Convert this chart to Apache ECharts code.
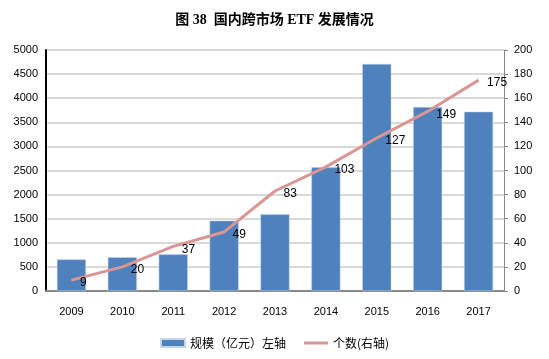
<!DOCTYPE html>
<html><head><meta charset="utf-8">
<script src="https://cdn.jsdelivr.net/npm/echarts@6/dist/echarts.min.js"></script>
<style>html,body{margin:0;padding:0;background:#fff}#c{width:549px;height:359px}</style>
</head><body><div id="c"></div>
<script>
const titleText = '图 38  国内跨市场 ETF 发展情况';
const years = ['2009','2010','2011','2012','2013','2014','2015','2016','2017'];
const scaleValues = [655, 700, 760, 1460, 1590, 2565, 4710, 3815, 3720];
const countValues = [9, 20, 37, 49, 83, 103, 127, 149, 175];
const barName = '规模（亿元）左轴';
const lineName = '个数(右轴)';

const chart = echarts.init(document.getElementById('c'), null, {renderer:'canvas'});
const numFont = "'Liberation Sans','Noto Sans CJK SC',sans-serif";
chart.setOption({
  animation:false,
  backgroundColor:'#fff',
  title:{text:titleText,left:'center',top:8,textStyle:{fontFamily:"'Liberation Serif','Noto Sans CJK SC',serif",fontWeight:'bold',fontSize:14,color:'#000'}},
  grid:{left:46,right:45,top:50,bottom:68},
  legend:{bottom:5,left:'center',itemWidth:24,itemHeight:8,itemGap:18,
    textStyle:{fontFamily:"'Noto Sans CJK SC',sans-serif",fontSize:12,color:'#000'},
    data:[{name:barName,icon:'rect'},{name:lineName,icon:'path://M0,0H24V3H0Z'}]},
  xAxis:{type:'category',data:years,
    axisLine:{lineStyle:{color:'#888',width:2}},axisTick:{show:false},
    axisLabel:{fontFamily:numFont,fontSize:11,color:'#000',margin:15}},
  yAxis:[
    {type:'value',min:0,max:5000,interval:500,
     axisLine:{show:true,lineStyle:{color:'#000',width:2}},axisTick:{show:false},
     splitLine:{lineStyle:{color:'#d9d9d9',width:2}},
     axisLabel:{fontFamily:numFont,fontSize:11,color:'#000',margin:8,formatter:v=>String(v)}},
    {type:'value',min:0,max:200,interval:20,
     axisLine:{show:true,lineStyle:{color:'#888',width:1}},axisTick:{show:true,length:4,inside:false,lineStyle:{color:'#888'}},
     splitLine:{show:false},
     axisLabel:{fontFamily:numFont,fontSize:11,color:'#000',margin:10,formatter:v=>String(v)}}
  ],
  series:[
    {name:barName,type:'bar',data:scaleValues,barWidth:'57%',
     itemStyle:{color:'#4F81BD',borderColor:'#c6d5ea',borderWidth:0.5}},
    {name:lineName,type:'line',yAxisIndex:1,data:countValues,symbol:'circle',symbolSize:1,showSymbol:true,
     lineStyle:{color:'#D99694',width:3},itemStyle:{color:'#D99694'},
     label:{show:true,position:'right',distance:8,offset:[0,3],fontFamily:numFont,fontSize:12,color:'#000'}}
  ]
});
</script></body></html>
